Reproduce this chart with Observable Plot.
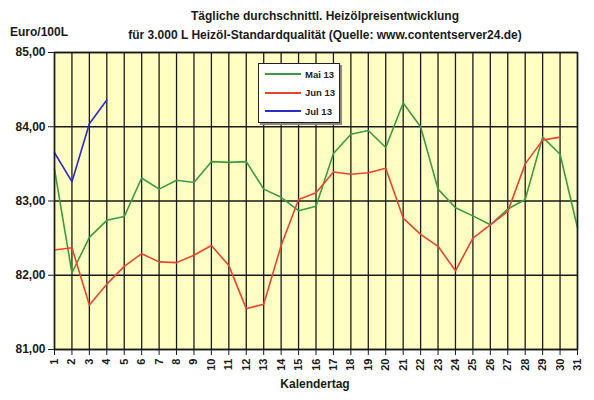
<!DOCTYPE html>
<html>
<head>
<meta charset="utf-8">
<script src="https://cdn.jsdelivr.net/npm/d3@7"></script>
<script src="https://cdn.jsdelivr.net/npm/@observablehq/plot@0.6"></script>
<style>
  body { margin: 0; background: #fff; font-family: "Liberation Sans", Arial, sans-serif; }
  #wrap { position: relative; width: 594px; height: 400px; }
  #head { position: relative; height: 44px; font-weight: bold; font-size: 12px; color: #1a1a1a; }
  .t { position: absolute; left: 0; width: 650px; text-align: center; white-space: nowrap; }
  #unit { position: absolute; left: 10px; top: 25px; }
  #xlabel { position: absolute; left: 0; width: 630px; top: 377px; text-align: center; font-weight: bold; font-size: 12px; color: #1a1a1a; }
  #legend { position: absolute; left: 258px; top: 63px; width: 80px; height: 58px; background: #fff;
            border: 1px solid #222; box-shadow: 2px 2px 0 #888; font-size: 9.5px; font-weight: bold; color: #222; }
  .row { position: absolute; left: 6px; height: 12px; display: flex; align-items: center; }
  .row span.ln { display: inline-block; width: 36px; height: 2px; margin-right: 4px; }
</style>
</head>
<body>
<div id="wrap">
  <div id="head">
    <div class="t" style="top:9px">Tägliche durchschnittl. Heizölpreisentwicklung</div>
    <div class="t" style="top:28px">für 3.000 L Heizöl-Standardqualität (Quelle: www.contentserver24.de)</div>
    <div id="unit">Euro/100L</div>
  </div>
  <div id="chart"></div>
  <div id="xlabel">Kalendertag</div>
  <div id="legend"></div>
</div>
<script>
// Kalendertage
const days = d3.range(1, 32);

// series values (Euro/100L)
const mai13 = [83.43, 82.03, 82.51, 82.74, 82.79, 83.31, 83.16, 83.28, 83.25, 83.53,
               83.52, 83.53, 83.16, 83.05, 82.87, 82.93, 83.64, 83.90, 83.95, 83.72,
               84.32, 84.00, 83.16, 82.91, 82.80, 82.68, 82.89, 83.02, 83.86, 83.63, 82.64];
const jun13 = [82.34, 82.37, 81.60, 81.88, 82.12, 82.29, 82.18, 82.17, 82.27, 82.40,
               82.13, 81.55, 81.61, 82.40, 83.02, 83.11, 83.39, 83.36, 83.38, 83.44,
               82.77, 82.55, 82.39, 82.06, 82.50, 82.68, 82.86, 83.50, 83.82, 83.86];
const jul13 = [83.65, 83.26, 84.04, 84.36];

const seriesNames = ["Mai 13", "Jun 13", "Jul 13"];
const seriesColors = ["#3f9a3f", "#e8452f", "#2b2bc6"];
const yTicks = [81, 82, 83, 84, 85];

let rows = [];
[mai13, jun13, jul13].forEach((vals, i) => {
    vals.forEach((v, j) => rows.push({series: seriesNames[i], day: days[j], value: v}));
});

const fmt = d => d3.format(".2f")(d).replace(".", ",");

let plot = Plot.plot({
    width: 594,
    height: 356,
    marginTop: 8,
    marginBottom: 51,
    marginLeft: 54,
    marginRight: 17,
    style: {fontFamily: "Liberation Sans, Arial, sans-serif", fontWeight: "bold", fontSize: "12px", color: "#1a1a1a", background: "transparent"},
    x: {domain: [1, 31]},
    y: {domain: [81, 85]},
    color: {domain: seriesNames, range: seriesColors},
    marks: [
        Plot.frame({fill: "#ffffc4"}),
        Plot.gridX(days, {stroke: "#1a1a1a", strokeOpacity: 1, strokeWidth: 1.3}),
        Plot.gridY(yTicks, {stroke: "#1a1a1a", strokeOpacity: 1, strokeWidth: 1.3}),
        Plot.line(rows, {x: "day", y: "value", z: "series", stroke: "series", strokeWidth: 1.6}),
        Plot.frame({stroke: "#1a1a1a", strokeWidth: 1.5}),
        Plot.axisY(yTicks, {tickFormat: fmt, tickSize: 6, tickPadding: 3, label: null, stroke: "#1a1a1a"}),
        Plot.axisX(days, {tickRotate: -90, tickSize: 6, tickPadding: 3, label: null, fontSize: 11, stroke: "#1a1a1a"})
    ]
});

document.querySelector("#chart").append(plot);

// legend
const legend = document.querySelector("#legend");
seriesNames.forEach((name, i) => {
    const row = document.createElement("div");
    row.className = "row";
    row.style.top = (4 + i * 18.5) + "px";
    row.innerHTML = `<span class="ln" style="background:${seriesColors[i]}"></span>${name}`;
    legend.append(row);
});
</script>
</body>
</html>
